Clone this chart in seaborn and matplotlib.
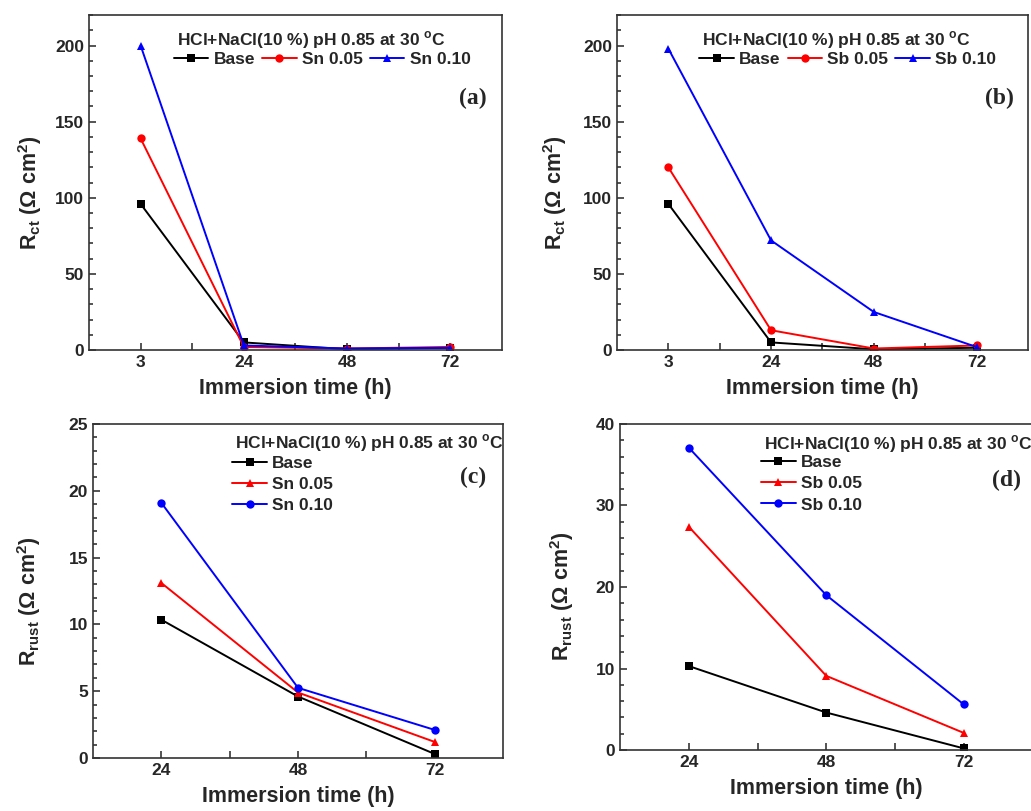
import matplotlib
matplotlib.use("Agg")
import matplotlib.pyplot as plt
from matplotlib.ticker import MultipleLocator, FixedLocator
import seaborn as sns
import pandas as pd

# Rct panels (a), (b)
rct_times = ["3", "24", "48", "72"]
rct_base = [96, 5, 0.5, 1.5]
rct_sn005 = [139, 2, 1, 2]
rct_sn010 = [200, 3, 1, 1.5]
rct_sb005 = [120, 13, 1, 3]
rct_sb010 = [198, 72, 25, 2]

# Rrust panels (c), (d)
rust_times = ["24", "48", "72"]
rust_base = [10.35, 4.6, 0.3]
rust_sn005 = [13.1, 4.9, 1.2]
rust_sn010 = [19.1, 5.25, 2.1]
rust_base_d = [10.3, 4.6, 0.2]
rust_sb005 = [27.4, 9.1, 2.1]
rust_sb010 = [37.1, 19.0, 5.6]

sns.set_style("ticks")
plt.rcParams["font.family"] = ["Liberation Sans", "DejaVu Sans"]
plt.rcParams["font.weight"] = "bold"
plt.rcParams["mathtext.fontset"] = "custom"
plt.rcParams["mathtext.rm"] = "Liberation Sans"
plt.rcParams["mathtext.bf"] = "Liberation Sans:bold"

BLACK, RED, BLUE = "#000000", "#ff0000", "#0000ff"
COND = "HCl+NaCl(10 %) pH 0.85 at 30 $^{\\rm o}$C"


def make_df(times, series):
    rows = []
    for name, vals in series:
        for i, v in enumerate(vals):
            rows.append({"pos": i, "val": v, "series": name})
    return pd.DataFrame(rows)


def panel(ax, times, series, colors, markers, ylim, ymajor, yminor, ylabel, ylab_x,
          tag, tag_xy, text_xy, leg_xy, ncol):
    df = make_df(times, series)
    names = [s[0] for s in series]
    sns.lineplot(data=df, x="pos", y="val", hue="series", style="series",
                 palette=dict(zip(names, colors)), markers=dict(zip(names, markers)),
                 dashes=False, markersize=6, linewidth=1.4, markeredgewidth=0,
                 sort=False, ax=ax)
    n = len(times)
    ax.set_xlim(-0.5, n - 0.5)
    ax.set_ylim(*ylim)
    ax.xaxis.set_major_locator(FixedLocator(range(n)))
    ax.set_xticklabels(times)
    ax.xaxis.set_minor_locator(FixedLocator([i + 0.5 for i in range(n - 1)]))
    ax.yaxis.set_major_locator(MultipleLocator(ymajor))
    ax.yaxis.set_minor_locator(MultipleLocator(yminor))
    ax.tick_params(which="both", direction="in", top=False, right=False,
                   labelsize=12.5, width=1.1)
    ax.tick_params(which="major", length=5)
    ax.tick_params(which="minor", length=3)
    ax.tick_params(axis="x", which="minor", length=5)
    for sp in ax.spines.values():
        sp.set_linewidth(1.2)
        sp.set_color("#333333")
    ax.set_xlabel("Immersion time (h)", fontsize=15.5, fontweight="bold", labelpad=6)
    ax.set_ylabel(ylabel, fontsize=15.5, fontweight="bold")
    ax.yaxis.set_label_coords(ylab_x, 0.47)
    ax.text(text_xy[0], text_xy[1], COND, transform=ax.transAxes, fontsize=12.5,
            fontweight="bold", ha="left", va="center")
    ax.text(tag_xy[0], tag_xy[1], tag, transform=ax.transAxes, fontsize=17,
            fontweight="bold", family="Liberation Serif", ha="center", va="center")
    h, l = ax.get_legend_handles_labels()
    ax.legend(h, l, loc="upper left", bbox_to_anchor=leg_xy, ncol=ncol,
              frameon=False, borderpad=0, borderaxespad=0,
              handlelength=2.0, handletextpad=0.3, columnspacing=0.4,
              labelspacing=0.35, prop={"weight": "bold", "size": 12.5})


fig = plt.figure(figsize=(10.31, 8.11), dpi=100)
ax_a = fig.add_axes([0.0863, 0.5684, 0.4006, 0.413])
ax_b = fig.add_axes([0.5984, 0.5684, 0.3986, 0.413])
ax_c = fig.add_axes([0.0902, 0.0654, 0.3977, 0.4118])
ax_d = fig.add_axes([0.6014, 0.0752, 0.4000, 0.4020])

ylab_ct = "R$_{\\rm ct}$ ($\\Omega$ cm$^{\\rm 2}$)"
ylab_rust = "R$_{\\rm rust}$ ($\\Omega$ cm$^{\\rm 2}$)"

panel(ax_a, rct_times,
      [("Base", rct_base), ("Sn 0.05", rct_sn005), ("Sn 0.10", rct_sn010)],
      [BLACK, RED, BLUE], ["s", "o", "^"], (0, 220), 50, 10, ylab_ct, -0.11,
      "(a)", (0.93, 0.752), (0.213, 0.925), (0.205, 0.89), 3)
panel(ax_b, rct_times,
      [("Base", rct_base), ("Sb 0.05", rct_sb005), ("Sb 0.10", rct_sb010)],
      [BLACK, RED, BLUE], ["s", "o", "^"], (0, 220), 50, 10, ylab_ct, -0.117,
      "(b)", (0.93, 0.752), (0.207, 0.925), (0.2, 0.89), 3)
panel(ax_c, rust_times,
      [("Base", rust_base), ("Sn 0.05", rust_sn005), ("Sn 0.10", rust_sn010)],
      [BLACK, RED, BLUE], ["s", "^", "o"], (0, 25), 5, 1, ylab_rust, -0.122,
      "(c)", (0.927, 0.84), (0.346, 0.943), (0.34, 0.905), 1)
panel(ax_d, rust_times,
      [("Base", rust_base_d), ("Sb 0.05", rust_sb005), ("Sb 0.10", rust_sb010)],
      [BLACK, RED, BLUE], ["s", "^", "o"], (0, 40), 10, 2, ylab_rust, -0.107,
      "(d)", (0.937, 0.828), (0.348, 0.939), (0.342, 0.905), 1)

fig.savefig("out.png", dpi=100)
